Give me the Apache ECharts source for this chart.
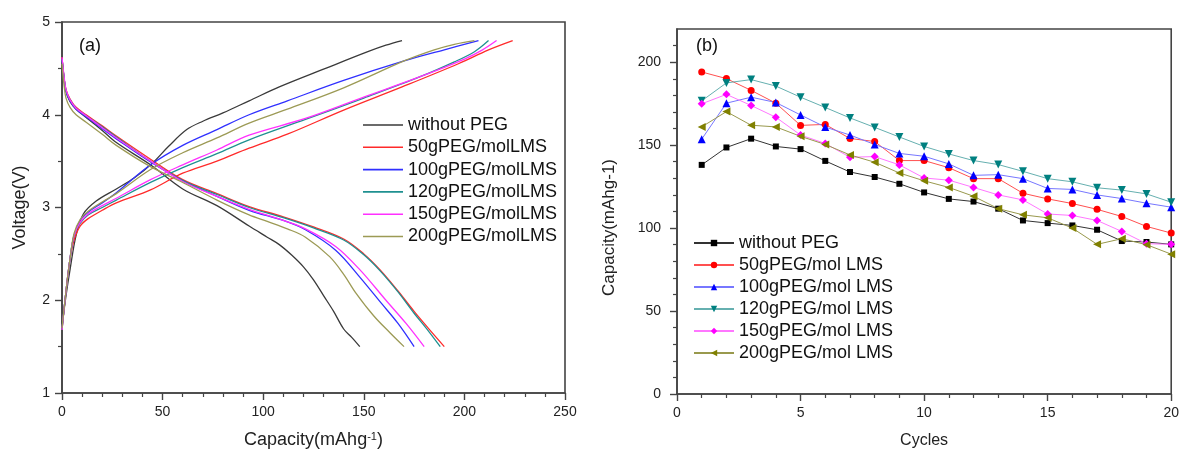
<!DOCTYPE html>
<html><head><meta charset="utf-8">
<script src="https://cdn.jsdelivr.net/npm/echarts@6/dist/echarts.min.js"></script>
<style>html,body{margin:0;padding:0;background:#fff}#c{width:1182px;height:454px}</style>
</head><body><div id="c"></div><script>
// ---------- Panel (a): charge / discharge curves, [capacity mAh/g, voltage V] ----------
const leftNames = ['without PEG','50gPEG/molLMS','100gPEG/molLMS','120gPEG/molLMS','150gPEG/molLMS','200gPEG/molLMS'];

const chargeNoPEG = [[0,1.72],[2,2.05],[4,2.33],[7,2.7],[10.6,2.93],[17,3.07],[27,3.2],[36,3.32],[45,3.48],[53,3.66],[62,3.84],[70,3.93],[80,4.02],[93,4.15],[108,4.3],[131,4.5],[152,4.68],[161,4.75],[169,4.8]];
const charge50 = [[0,1.68],[2,2.1],[4,2.45],[6,2.65],[9,2.8],[13,2.88],[20,2.97],[27,3.05],[44,3.19],[60,3.37],[77,3.5],[93,3.64],[112,3.79],[140,4.05],[169,4.3],[197,4.55],[212,4.7],[224,4.8]];
const charge100 = [[0,1.7],[2,2.1],[4,2.45],[6,2.7],[9,2.86],[13,2.95],[20,3.05],[27,3.16],[44,3.46],[60,3.67],[77,3.84],[93,4.0],[112,4.15],[140,4.37],[170,4.58],[190,4.7],[207,4.8]];
const charge120 = [[0,1.68],[2,2.1],[4,2.45],[6,2.7],[9,2.83],[13,2.92],[20,3.0],[27,3.08],[44,3.27],[60,3.43],[77,3.58],[93,3.73],[121,3.95],[150,4.18],[178,4.41],[195,4.57],[205,4.68],[212,4.8]];
const charge150 = [[0,1.68],[2,2.1],[4,2.45],[6,2.7],[9,2.84],[13,2.93],[20,3.02],[27,3.1],[44,3.3],[60,3.46],[77,3.62],[93,3.78],[121,3.96],[150,4.19],[178,4.41],[200,4.6],[209,4.7],[216,4.8]];
const charge200 = [[0,1.7],[2,2.1],[4,2.45],[6,2.72],[9,2.87],[13,2.96],[20,3.06],[27,3.15],[44,3.41],[60,3.59],[77,3.75],[93,3.91],[112,4.06],[140,4.29],[170,4.58],[185,4.7],[195,4.76],[205,4.8]];

const dischargeNoPEG = [[0,4.62],[1,4.4],[2,4.25],[4,4.14],[7,4.06],[12,3.97],[20,3.83],[27,3.7],[44,3.46],[60,3.2],[77,3.02],[93,2.8],[102,2.68],[108,2.6],[114,2.49],[120,2.36],[125,2.22],[130,2.05],[135,1.88],[140,1.69],[144,1.6],[148,1.5]];
const discharge50 = [[0,4.62],[1,4.4],[2,4.27],[4,4.17],[7,4.08],[12,4.0],[20,3.88],[27,3.77],[44,3.52],[60,3.3],[77,3.15],[93,3.01],[110,2.9],[125,2.79],[140,2.66],[150,2.5],[158,2.33],[167,2.1],[175,1.88],[182,1.7],[190,1.5]];
const discharge100 = [[0,4.6],[1,4.4],[2,4.25],[4,4.15],[7,4.06],[12,3.98],[20,3.85],[27,3.74],[44,3.49],[60,3.29],[77,3.12],[93,2.97],[110,2.86],[121,2.76],[136,2.54],[148,2.25],[159,1.96],[167,1.75],[175,1.5]];
const discharge120 = [[0,4.6],[1,4.4],[2,4.26],[4,4.16],[7,4.07],[12,3.99],[20,3.87],[27,3.76],[44,3.5],[60,3.29],[77,3.14],[93,3.0],[110,2.89],[125,2.78],[140,2.65],[150,2.49],[158,2.32],[167,2.09],[175,1.86],[181,1.7],[188,1.5]];
const discharge150 = [[0,4.62],[1,4.42],[2,4.27],[4,4.16],[7,4.07],[12,3.99],[20,3.86],[27,3.75],[44,3.5],[60,3.28],[77,3.12],[93,2.98],[110,2.86],[121,2.77],[136,2.58],[148,2.33],[161,2.0],[171,1.75],[180,1.5]];
const discharge200 = [[0,4.55],[1,4.32],[2,4.18],[4,4.08],[7,4.0],[12,3.92],[20,3.79],[27,3.67],[44,3.44],[60,3.27],[77,3.08],[93,2.92],[102,2.85],[112,2.77],[121,2.68],[133,2.47],[140,2.28],[146,2.08],[155,1.83],[163,1.65],[170,1.5]];

// ---------- Panel (b): cycling capacity ----------
const rightNames = ['without PEG','50gPEG/mol LMS','100gPEG/mol LMS','120gPEG/mol LMS','150gPEG/mol LMS','200gPEG/mol LMS'];
const cycles = [1,2,3,4,5,6,7,8,9,10,11,12,13,14,15,16,17,18,19,20];
const capNoPEG = [138.1,148.6,153.9,149.2,147.6,140.5,133.8,130.8,126.7,121.5,117.6,116,111.7,104.6,103,101.6,99,92.2,91.6,90.2];
const cap50 = [194.1,190.1,183,175.3,161.9,162.5,154,152.2,140.7,140.7,136.4,129.8,129.8,121,117.6,114.8,111.3,107,101,97];
const cap100 = [153.6,175.3,178.9,175.7,168.2,160.9,156.1,150.4,145,143.3,138.7,131.8,132.2,129.8,123.9,123.3,120,117.8,115,112.6];
const cap120 = [176.7,187.5,189.5,185.6,178.9,172.7,166.4,160.7,154.9,149.2,144.7,140.7,138.3,134.2,129.8,127.9,124.3,122.9,120.6,115.6];
const cap150 = [174.9,180.6,173.9,166.8,156.1,151,142.7,143.1,138.1,130.2,128.9,124.5,120,117,108.5,107.6,104.6,98,90.6,90.2];
const cap200 = [161,170.2,162,161,155.3,150.4,144.1,139.7,133.2,128.5,124.5,119.2,111.7,108,106.2,100,90.2,93.6,90,84.3];

// ---------- styles ----------
const FONT = 'Liberation Sans, Arial, sans-serif';
const AX = '#444';
const leftColors = ['#3a3a3a','#ff2a2a','#3030ff','#1f9090','#ff30ff','#9c9a55'];
const markColors = ['#000000','#ff0000','#0000ff','#008080','#ff00ff','#808000'];
const lineColors = ['#333333','#ff5050','#7777ff','#66b0b0','#ff77ff','#99994d'];
const symbols = ['rect','circle','triangle','triangle','diamond','triangle'];
const symRot = [0,0,0,180,0,90];
const symSize = [6,7,8,8,8,8];

const charges = [chargeNoPEG,charge50,charge100,charge120,charge150,charge200];
const discharges = [dischargeNoPEG,discharge50,discharge100,discharge120,discharge150,discharge200];
const caps = [capNoPEG,cap50,cap100,cap120,cap150,cap200];

const series = [];
leftNames.forEach((n,i)=>{
  [charges[i],discharges[i]].forEach(d=>{
    series.push({type:'line', name:'a:'+n, xAxisIndex:0, yAxisIndex:0, data:d, symbol:'none',
      smooth:0.35, lineStyle:{color:leftColors[i], width:1.3}, itemStyle:{color:leftColors[i]},
      silent:true, animation:false});
  });
});
rightNames.forEach((n,i)=>{
  series.push({type:'line', name:n, xAxisIndex:1, yAxisIndex:1,
    data: cycles.map((c,k)=>[c,caps[i][k]]),
    symbol:symbols[i], symbolRotate:symRot[i], symbolSize:symSize[i],
    lineStyle:{color:lineColors[i], width:1}, itemStyle:{color:markColors[i]},
    silent:true, animation:false});
});

const axisCommon = {
  axisLine:{show:true, onZero:false, lineStyle:{color:AX, width:1.6}},
  axisTick:{show:true, inside:false, length:7, lineStyle:{color:AX, width:1.4}},
  minorTick:{show:true, length:4, lineStyle:{color:AX, width:1.2}},
  axisLabel:{color:'#222', fontSize:14, fontFamily:FONT, margin:12},
  splitLine:{show:false},
  nameTextStyle:{color:'#222', fontSize:18, fontFamily:FONT}
};

const option = {
  backgroundColor:'#fff',
  animation:false,
  grid:[
    {left:62, top:22, width:503, height:372, show:true, borderColor:AX, borderWidth:1.6},
    {left:677, top:29, width:499, height:367, show:true, borderColor:AX, borderWidth:1.6}
  ],
  xAxis:[
    Object.assign({}, axisCommon, {type:'value', gridIndex:0, min:0, max:250, interval:50,
      minorTick:Object.assign({}, axisCommon.minorTick, {splitNumber:5}),
      name:'Capacity(mAhg{sup|-1})', nameLocation:'middle', nameGap:38,
      nameTextStyle:{color:'#222', fontSize:18, fontFamily:FONT,
        rich:{sup:{fontSize:11, fontFamily:FONT, color:'#222', verticalAlign:'top', padding:[0,0,6,0]}}}}),
    Object.assign({}, axisCommon, {type:'value', gridIndex:1, min:0, max:20, interval:5,
      minorTick:Object.assign({}, axisCommon.minorTick, {splitNumber:5}),
      name:'Cycles', nameLocation:'middle', nameGap:39,
      nameTextStyle:{color:'#222', fontSize:16, fontFamily:FONT}})
  ],
  yAxis:[
    Object.assign({}, axisCommon, {type:'value', gridIndex:0, min:1, max:5, interval:1,
      minorTick:Object.assign({}, axisCommon.minorTick, {splitNumber:2}),
      name:'Voltage(V)', nameLocation:'middle', nameGap:33}),
    Object.assign({}, axisCommon, {type:'value', gridIndex:1, min:0, max:220, interval:50,
      axisTick:Object.assign({}, axisCommon.axisTick, {customValues:[0,50,100,150,200]}),
      axisLabel:Object.assign({}, axisCommon.axisLabel, {margin:16, customValues:[0,50,100,150,200]}),
      minorTick:{show:false},
      name:'Capacity(mAhg-1)', nameLocation:'middle', nameGap:59,
      nameTextStyle:{color:'#222', fontSize:17, fontFamily:FONT, padding:[0,32,0,0]}}),
    {type:'value', gridIndex:1, min:0, max:220, position:'left',
      axisLine:{show:false}, axisLabel:{show:false}, splitLine:{show:false},
      axisTick:{show:true, inside:false, length:4, lineStyle:{color:AX, width:1.2},
        customValues:[10,20,30,40,60,70,80,90,110,120,130,140,160,170,180,190,210]}}
  ],
  legend:[
    {data:leftNames.map(n=>'a:'+n), orient:'vertical', left:358, top:110,
      icon:'rect', itemWidth:40, itemHeight:1.6, itemGap:2.3,
      formatter:n=>n.slice(2),
      textStyle:{fontSize:18, lineHeight:20, fontFamily:FONT, color:'#111'},
      selectedMode:false},
    {data:rightNames, orient:'vertical', left:688, top:228,
      itemWidth:40, itemHeight:8, itemGap:2,
      textStyle:{fontSize:18, lineHeight:20, fontFamily:FONT, color:'#111'},
      selectedMode:false}
  ],
  graphic:[
    {type:'text', left:79, top:37, style:{text:'(a)', fontSize:18, fontFamily:FONT, fill:'#111'}},
    {type:'text', left:696, top:37, style:{text:'(b)', fontSize:18, fontFamily:FONT, fill:'#111'}}
  ],
  series:series
};
const chart = echarts.init(document.getElementById('c'), null, {renderer:'canvas'});
chart.setOption(option);
</script></body></html>
